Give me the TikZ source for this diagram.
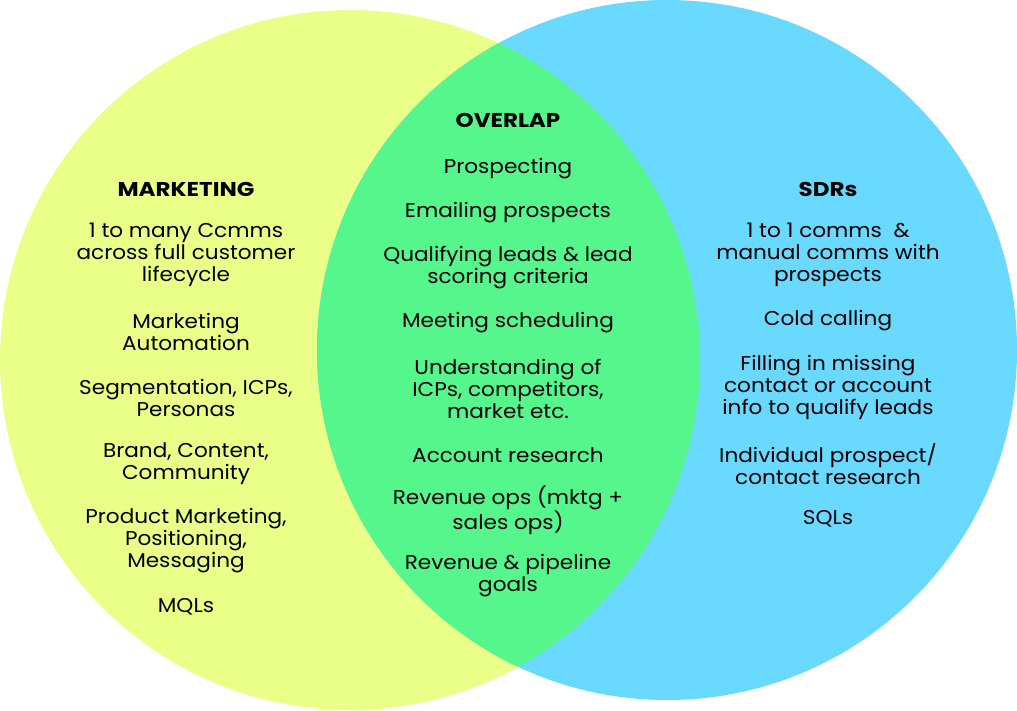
\documentclass[tikz,border=0pt]{standalone}
\usepackage{fontspec}
\setmainfont{Poppins}[FakeStretch=1.08]
\newfontfamily\hdrfont{Poppins}[FakeStretch=1.15]
\definecolor{mkt}{RGB}{234,255,135}
\definecolor{sdr}{RGB}{105,217,255}
\definecolor{ovl}{RGB}{85,247,141}
\begin{document}
\begin{tikzpicture}[x=1pt,y=-1pt,
  txt/.style={align=center,inner sep=0pt,yshift=-2pt,font=\fontsize{20}{22}\selectfont},
  hdr/.style={txt,font=\hdrfont\fontsize{20}{22}\selectfont\bfseries}]
\useasboundingbox (0,0) rectangle (1017,710);
\fill[mkt] (350,360) circle[radius=350];
\fill[sdr] (667,350) circle[radius=350];
\begin{scope}
\clip (350,360) circle[radius=350];
\fill[ovl] (667,350) circle[radius=350];
\end{scope}
% marketing
\node[hdr] (mh) at (186,187) {MARKETING};
\node[txt] (m1) at (186,253) {1 to many Ccmms\\across full customer\\lifecycle};
\node[txt] (m2) at (186,330) {Marketing\\Automation};
\node[txt] (m3) at (186,396) {Segmentation, ICPs,\\Personas};
\node[txt] (m4) at (186,462) {Brand, Content,\\Community};
\node[txt] (m5) at (186,539) {Product Marketing,\\Positioning,\\Messaging};
\node[txt] (m6) at (186,605) {MQLs};
% overlap
\node[hdr] (oh) at (508,118) {OVERLAP};
\node[txt] (o1) at (508,167) {Prospecting};
\node[txt] (o2) at (508,211) {Emailing prospects};
\node[txt] (o3) at (508,266) {Qualifying leads \& lead\\scoring criteria};
\node[txt] (o4) at (508,321) {Meeting scheduling};
\node[txt] (o5) at (508,387) {Understanding of\\ICPs, competitors,\\market etc.};
\node[txt] (o6) at (508,453) {Account research};
\node[txt] (o7) at (508,508) {Revenue ops (mktg +\\sales ops)};
\node[txt] (o8) at (508,574) {Revenue \& pipeline\\goals};
% sdrs
\node[hdr] (sh) at (828,187) {SDRs};
\node[txt] (s1) at (828,253) {1 to 1 comms\ \ \&\\manual comms with\\prospects};
\node[txt] (s2) at (828,319) {Cold calling};
\node[txt] (s3) at (828,385) {Filling in missing\\contact or account\\info to qualify leads};
\node[txt] (s4) at (828,462) {Individual prospect/\\contact research};
\node[txt] (s5) at (828,517) {SQLs};
\end{tikzpicture}
\end{document}
